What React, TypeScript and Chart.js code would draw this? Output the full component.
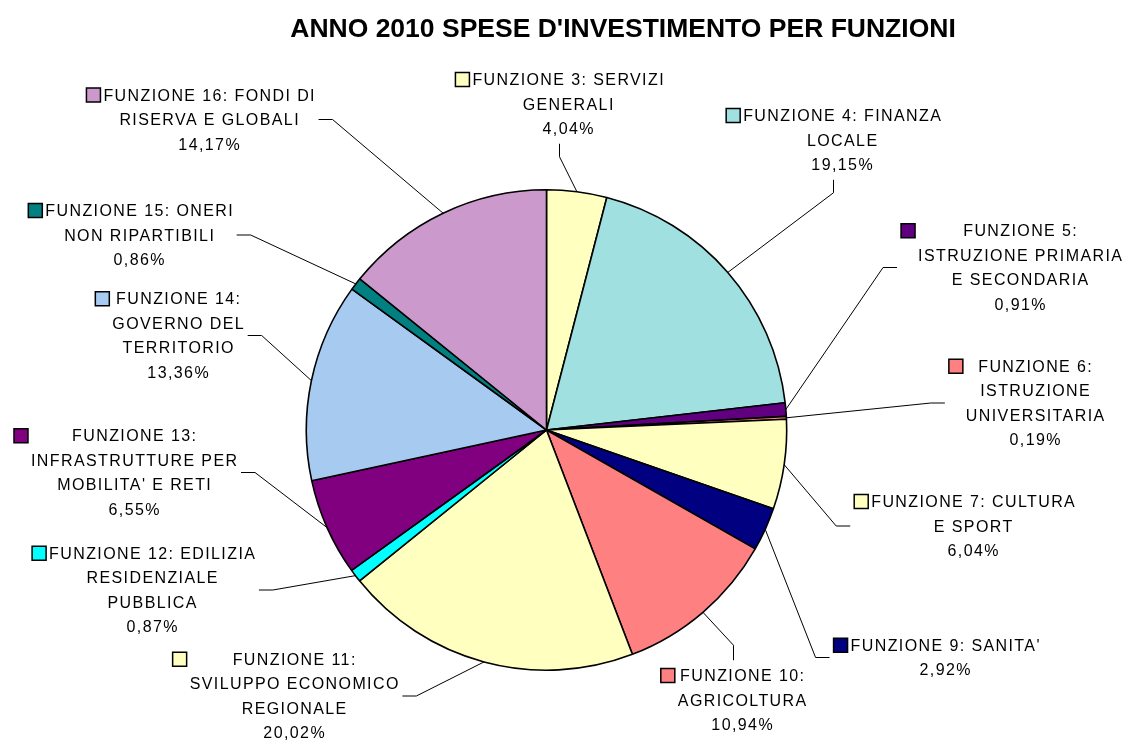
import React, { useEffect, useRef } from "react";
import { Chart, registerables } from "chart.js";

Chart.register(...registerables);

const TITLE = "ANNO 2010 SPESE D'INVESTIMENTO PER FUNZIONI";

const CATEGORIES = [
  "FUNZIONE 3: SERVIZI GENERALI",
  "FUNZIONE 4: FINANZA LOCALE",
  "FUNZIONE 5: ISTRUZIONE PRIMARIA E SECONDARIA",
  "FUNZIONE 6: ISTRUZIONE UNIVERSITARIA",
  "FUNZIONE 7: CULTURA E SPORT",
  "FUNZIONE 9: SANITA'",
  "FUNZIONE 10: AGRICOLTURA",
  "FUNZIONE 11: SVILUPPO ECONOMICO REGIONALE",
  "FUNZIONE 12: EDILIZIA RESIDENZIALE PUBBLICA",
  "FUNZIONE 13: INFRASTRUTTURE PER MOBILITA' E RETI",
  "FUNZIONE 14: GOVERNO DEL TERRITORIO",
  "FUNZIONE 15: ONERI NON RIPARTIBILI",
  "FUNZIONE 16: FONDI DI RISERVA E GLOBALI",
];

const VALUES = [4.04, 19.15, 0.91, 0.19, 6.04, 2.92, 10.94, 20.02, 0.87, 6.55, 13.36, 0.86, 14.17];

const LABEL_LINES = [
  ["FUNZIONE 3: SERVIZI", "GENERALI"],
  ["FUNZIONE 4: FINANZA", "LOCALE"],
  ["FUNZIONE 5:", "ISTRUZIONE PRIMARIA", "E SECONDARIA"],
  ["FUNZIONE 6:", "ISTRUZIONE", "UNIVERSITARIA"],
  ["FUNZIONE 7: CULTURA", "E SPORT"],
  ["FUNZIONE 9: SANITA'"],
  ["FUNZIONE 10:", "AGRICOLTURA"],
  ["FUNZIONE 11:", "SVILUPPO ECONOMICO", "REGIONALE"],
  ["FUNZIONE 12: EDILIZIA", "RESIDENZIALE", "PUBBLICA"],
  ["FUNZIONE 13:", "INFRASTRUTTURE PER", "MOBILITA' E RETI"],
  ["FUNZIONE 14:", "GOVERNO DEL", "TERRITORIO"],
  ["FUNZIONE 15: ONERI", "NON RIPARTIBILI"],
  ["FUNZIONE 16: FONDI DI", "RISERVA E GLOBALI"],
];

const COLORS = [
  "#FFFFC0", "#A0E0E0", "#600080", "#FF8080", "#FFFFC0", "#000080", "#FF8080",
  "#FFFFC0", "#00FFFF", "#800080", "#A6CAF0", "#008080", "#CC99CC",
];

// label block placement (layout only): text centre x, block centre y, leader side
const LABEL_LAYOUT = [
  { x: 568, y: 104, side: "bottom" },
  { x: 842, y: 140, side: "bottom" },
  { x: 1020, y: 267.5, side: "left" },
  { x: 1035, y: 403, side: "left" },
  { x: 973, y: 526, side: "left" },
  { x: 945, y: 657.5, side: "left" },
  { x: 742, y: 700, side: "top" },
  { x: 294, y: 696, side: "right" },
  { x: 152, y: 590, side: "right" },
  { x: 134, y: 472.5, side: "right" },
  { x: 178, y: 335.5, side: "right" },
  { x: 139, y: 235, side: "right" },
  { x: 209, y: 119.5, side: "right" },
];

const pct = (v: number) => v.toFixed(2).replace(".", ",") + "%";

const LS = 1.4;

const labelPlugin = {
  id: "outLabels",
  afterDraw(chart: any) {
    const ctx: CanvasRenderingContext2D = chart.ctx;
    // title
    ctx.save();
    ctx.font = 'bold 26.5px "Liberation Sans", Arial, sans-serif';
    ctx.fillStyle = "#000";
    ctx.textAlign = "center";
    ctx.textBaseline = "alphabetic";
    ctx.fillText(TITLE, 623, 36.5);
    ctx.restore();

    const meta = chart.getDatasetMeta(0);
    ctx.save();
    ctx.font = '16px "Liberation Sans", Arial, sans-serif';
    (ctx as any).letterSpacing = LS + "px";
    ctx.textAlign = "center";
    ctx.textBaseline = "alphabetic";
    const LH = 24.5;
    meta.data.forEach((arc: any, i: number) => {
      const p = arc.getProps(["x", "y", "startAngle", "endAngle", "outerRadius"], true);
      const mid = (p.startAngle + p.endAngle) / 2;
      const px = p.x + Math.cos(mid) * p.outerRadius;
      const py = p.y + Math.sin(mid) * p.outerRadius;
      const lines = [...LABEL_LINES[i], pct(VALUES[i])];
      const L = LABEL_LAYOUT[i];
      const widths = lines.map((t) => ctx.measureText(t).width - LS);
      const maxW = Math.max(...widths);
      const top = L.y - (lines.length * LH) / 2;
      const bottom = L.y + (lines.length * LH) / 2;
      const blockL = L.x - maxW / 2;
      const blockR = L.x + maxW / 2;
      const sq = 14;
      const sqL = blockL - 3 - sq;
      const firstY = top + LH / 2;

      // leader line
      let ax = 0, ay = 0, ex = 0, ey = 0;
      if (L.side === "left") {
        ax = sqL - 4; ay = L.y; ex = ax - 14; ey = ay;
      } else if (L.side === "right") {
        ax = blockR + 4; ay = L.y; ex = ax + 14; ey = ay;
      } else if (L.side === "bottom") {
        ax = (sqL + blockR) / 2; ay = bottom + 3; ex = ax; ey = ay + 13;
      } else {
        ax = (sqL + blockR) / 2; ay = top - 3; ex = ax; ey = ay - 15;
      }
      ctx.strokeStyle = "#000";
      ctx.lineWidth = 1;
      ctx.beginPath();
      ctx.moveTo(ax, ay);
      ctx.lineTo(ex, ey);
      ctx.lineTo(px, py);
      ctx.stroke();

      // legend key
      ctx.fillStyle = COLORS[i];
      ctx.fillRect(sqL, firstY - sq / 2, sq, sq);
      ctx.lineWidth = 1.5;
      ctx.strokeRect(sqL, firstY - sq / 2, sq, sq);

      // text
      ctx.fillStyle = "#000";
      lines.forEach((t, j) => {
        const cy = top + LH * (j + 0.5);
        ctx.fillText(t, L.x + LS / 2, cy + 5.7);
      });
    });
    ctx.restore();
  },
};

export default function App() {
  const ref = useRef<HTMLCanvasElement | null>(null);
  useEffect(() => {
    if (!ref.current) return;
    const chart = new Chart(ref.current, {
      type: "pie",
      data: {
        labels: CATEGORIES,
        datasets: [
          {
            data: VALUES,
            backgroundColor: COLORS,
            borderColor: "#000",
            borderWidth: 1.6,
          },
        ],
      },
      options: {
        responsive: false,
        animation: false,
        layout: { padding: { left: 305, right: 342, top: 189, bottom: 71 } },
        plugins: {
          legend: { display: false },
          tooltip: { enabled: false },
          title: { display: false },
        },
      },
      plugins: [labelPlugin],
    });
    return () => chart.destroy();
  }, []);
  return (
    <div style={{ position: "absolute", left: 0, top: 0, width: 1130, height: 742, background: "#fff" }}>
      <canvas ref={ref} width={1130} height={742} style={{ width: 1130, height: 742, display: "block" }} />
    </div>
  );
}
